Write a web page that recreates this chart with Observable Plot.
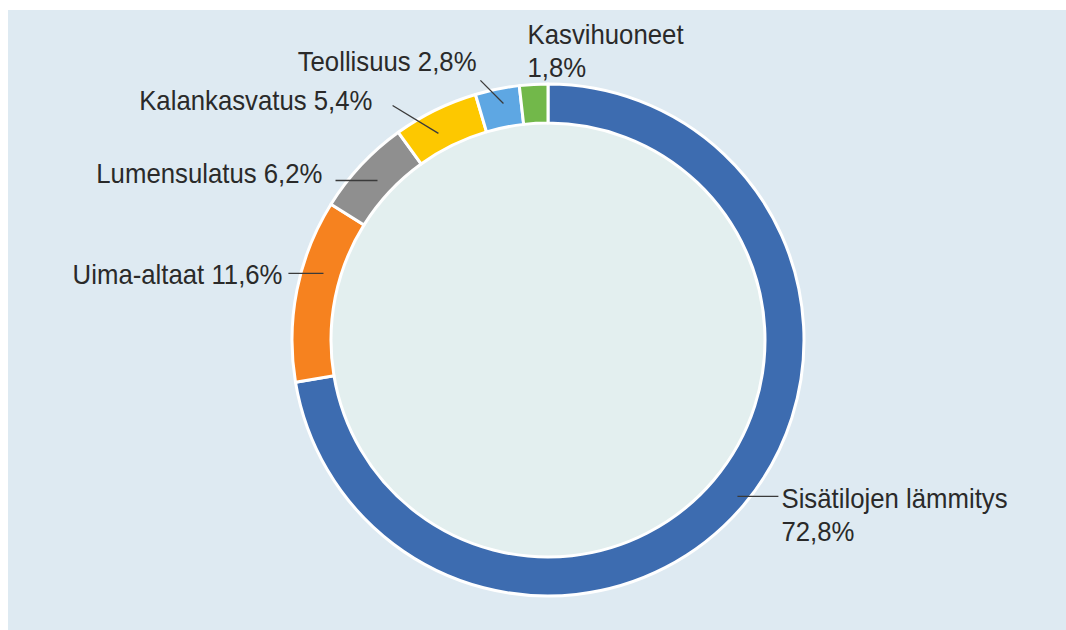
<!DOCTYPE html>
<html>
<head>
<meta charset="utf-8">
<script src="https://cdn.jsdelivr.net/npm/d3@7"></script>
<script src="https://cdn.jsdelivr.net/npm/@observablehq/plot@0.6"></script>
<style>
  html, body { margin: 0; padding: 0; background: #ffffff; }
  #wrap { padding: 10px 0 0 8px; width: 1058px; height: 620px; }
  #wrap svg { display: block; background: #deeaf2; }
</style>
</head>
<body>
<div id="wrap"></div>
<script>
// ---- data ----
const categories = ["Sisätilojen lämmitys", "Uima-altaat", "Lumensulatus", "Kalankasvatus", "Teollisuus", "Kasvihuoneet"];
const shares = [72.8, 11.6, 6.2, 5.4, 2.8, 1.8];
const colors = ["#3d6cb0", "#f6821f", "#8f8f8f", "#fdc800", "#5ea7e3", "#72b84a"];

// ---- label layout (in units of outer radius, relative to donut centre) ----
const labelX = [0.910, -1.039, -0.883, -0.6875, -0.281, -0.082];
const labelY = [-0.676, 0.262, 0.656, 0.941, 1.094, 1.135];
const labelAnchor = ["start", "end", "end", "end", "end", "start"];
const labelBreak = [true, false, false, false, false, true];
const leaderX1 = [0.738, -1.016, -0.832, -0.609, -0.266, null];
const leaderY1 = [-0.609, 0.262, 0.625, 0.918, 1.016, null];
const leaderX2 = [0.898, -0.879, -0.668, -0.430, -0.176, null];
const leaderY2 = [-0.609, 0.262, 0.625, 0.809, 0.926, null];

const fmt = v => v.toFixed(1).replace(".", ",") + "%";
const data = categories.map((c, i) => ({category: c, value: shares[i], color: colors[i]}));
const labels = categories.map((c, i) => ({
  text: c + (labelBreak[i] ? "\n" : " ") + fmt(shares[i]),
  x: labelX[i], y: labelY[i], anchor: labelAnchor[i]
}));
const leaders = categories.map((c, i) => ({x1: leaderX1[i], y1: leaderY1[i], x2: leaderX2[i], y2: leaderY2[i]}))
  .filter(d => d.x1 != null);

const W = 1058, H = 620, R = 256, CX = 540, CY = 330;
const innerRatio = 217 / 256;

const donut = (index, scales) => {
  const cx = scales.x(0), cy = scales.y(0);
  const Rpx = scales.x(1) - scales.x(0);
  const arcs = d3.pie().sort(null).value(d => d.value)(data);
  const arc = d3.arc().innerRadius(Rpx * innerRatio).outerRadius(Rpx);
  const g = d3.create("svg:g").attr("transform", `translate(${cx},${cy})`);
  g.append("circle").attr("r", Rpx * innerRatio).attr("fill", "#e3efef");
  g.selectAll("path").data(arcs).join("path")
    .attr("d", arc)
    .attr("fill", d => d.data.color)
    .attr("stroke", "#ffffff")
    .attr("stroke-width", 3)
    .attr("stroke-linejoin", "round");
  return g.node();
};

const textOpts = {
  x: "x", y: "y", text: "text",
  fontSize: 28, fontFamily: "Liberation Sans, Arial, sans-serif",
  fill: "#2a2a2a", lineAnchor: "middle", lineHeight: 1.18
};

const chart = Plot.plot({
  width: W, height: H,
  margin: 0,
  x: {domain: [-CX / R, (W - CX) / R], axis: null},
  y: {domain: [-(H - CY) / R, CY / R], axis: null},
  marks: [
    donut,
    Plot.link(leaders, {x1: "x1", y1: "y1", x2: "x2", y2: "y2", stroke: "#3a3a3a", strokeWidth: 1.3}),
    Plot.text(labels.filter(d => d.anchor === "start"), {...textOpts, textAnchor: "start"}),
    Plot.text(labels.filter(d => d.anchor === "end"), {...textOpts, textAnchor: "end"})
  ]
});

// slightly condensed lettering, as in the original
d3.select(chart).selectAll("text").each(function() {
  const t = this.getAttribute("transform") || "";
  this.setAttribute("transform", t + " scale(0.92,1)");
});

document.getElementById("wrap").append(chart);
</script>
</body>
</html>
